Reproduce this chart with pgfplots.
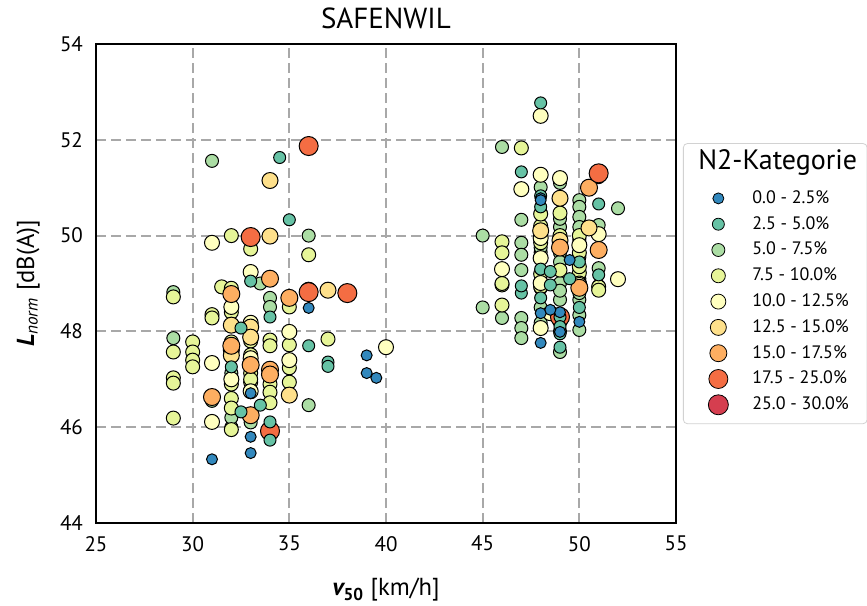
\documentclass[border=0pt]{standalone}
\usepackage{pgfplots}
\pgfplotsset{compat=1.18}
\usepackage{pgfplotstable}
\usepackage{fontspec}
\setmainfont{PT Sans}
\definecolor{c0}{HTML}{3288BD}
\definecolor{c1}{HTML}{66C2A5}
\definecolor{c2}{HTML}{ABDDA4}
\definecolor{c3}{HTML}{E6F598}
\definecolor{c4}{HTML}{FFFFBF}
\definecolor{c5}{HTML}{FEE08B}
\definecolor{c6}{HTML}{FDAE61}
\definecolor{c7}{HTML}{F46D43}
\definecolor{c8}{HTML}{D53E4F}
\definecolor{gridgray}{HTML}{A8A8A8}

\pgfplotstableread{
x y
36 48.49
39 47.50
39 47.13
39.5 47.03
31 45.33
33 45.80
33 45.46
33 46.71
48 50.78
48 48.38
48 47.76
49 47.99
49.5 49.49
50 48.20
48 50.74
49 48.40
48.5 48.45
}\catA
\pgfplotstableread{
x y
34.5 51.63
35 50.33
33 49.05
34 48.30
36 47.70
37 47.36
37 47.27
32 47.26
32.5 48.07
32.5 46.32
33.5 46.46
34 46.11
34 45.73
48 52.77
47 51.33
48 50.83
51 50.66
47 48.80
48 48.70
48.5 48.97
49 48.30
49 47.95
49 47.67
50 49.45
51 49.18
48 49.30
47 48.95
50 48.50
48.5 49.25
49 48.10
48 50.60
49.5 49.10
}\catB
\pgfplotstableread{
x y
31 51.56
36 50.00
33.5 49.00
34 48.70
34 48.51
29 48.82
29 47.86
32 47.65
32 47.13
32 46.99
32 46.00
31 46.55
36 46.46
48 51.01
49 51.10
51 51.22
50 50.74
52 50.57
49 50.18
50 50.60
50 50.39
50 50.18
50 49.91
48 50.47
48 50.18
45 50.00
47 50.33
47 49.85
47 49.60
47 49.28
49 49.64
51 50.22
51 49.32
46 48.28
45 48.50
47 48.28
47 48.07
47 47.86
48 48.18
49 49.01
49 48.66
49 47.57
50 48.66
50 48.34
50 48.03
48 49.05
48 48.90
49 48.85
50 49.10
51 48.95
46 51.85
48 49.65
48 48.50
49 49.45
49 48.00
50 48.80
50 49.55
48 49.75
49 50.35
32 46.20
33 46.10
}\catC
\pgfplotstableread{
x y
33 49.72
36 49.60
32 50.00
31.5 48.93
32 48.40
35 48.51
37 47.84
29 48.72
29 47.57
29 47.03
29 46.92
29 46.19
30 47.78
30 47.57
30 47.40
30 47.26
31 48.35
31 48.28
32 47.78
32 46.90
32 46.60
32 46.40
32 45.95
33 47.80
33 47.51
33 47.13
33 46.94
34 47.82
34 47.70
34 47.09
34 46.90
34 46.73
34 46.51
35 47.72
35 47.24
35 46.94
47 51.83
49 51.20
46 49.87
46 49.64
46 48.97
46 48.55
48 49.85
49 50.47
49 49.85
49 49.28
50 49.64
50 49.22
50 49.01
51 48.93
51 48.86
48 48.93
46 49.00
48 50.20
49 50.00
48 49.20
48 50.45
49 48.20
50 50.00
50 49.35
32 48.90
33 47.00
}\catD
\pgfplotstableread{
x y
31 49.85
33 49.24
31 47.34
31 46.11
32 48.51
33 48.18
33 47.44
35 47.99
35 47.40
40 47.67
32 47.00
33 46.75
48 52.50
48 51.27
47 50.97
49 51.20
48 49.53
48 49.01
46 49.30
52 49.09
51 50.03
50 48.97
48.5 48.38
48 48.07
48 49.95
50 49.80
}\catE
\pgfplotstableread{
x y
34 51.15
34 49.99
36 48.86
37 48.86
32 48.13
32 47.61
32 47.50
33 48.09
33 47.88
35 46.67
49 50.78
50.5 50.16
48 50.10
49 49.90
}\catF
\pgfplotstableread{
x y
32 48.78
34 49.10
35 48.70
31 46.63
33 47.30
34 47.20
34 47.10
33 46.25
32 47.70
50.5 51.00
51 49.70
50 48.91
49 49.75
}\catG
\pgfplotstableread{
x y
36 51.87
33 49.97
38 48.80
36 48.82
34 45.92
51 51.30
49 48.30
}\catH

\begin{document}
\begin{tikzpicture}
\useasboundingbox (-48pt,-41pt) rectangle (385.5pt,261.5pt);
\begin{axis}[
  scale only axis,
  width=290pt, height=239.5pt,
  xmin=25, xmax=55, ymin=44, ymax=54,
  xtick={25,30,...,55}, ytick={44,46,...,54},
  grid=major,
  major grid style={gridgray, line width=1pt, dash pattern=on 5pt off 2.5pt},
  axis line style={black, line width=0.6pt},
  major tick length=0pt,
  tick label style={font=\fontsize{10.5}{12}\selectfont},
  /pgf/number format/assume math mode=true,
  xticklabel style={yshift=-3pt},
  yticklabel style={xshift=-3pt},
  title={SAFENWIL},
  title style={font=\fontsize{14.5}{16}\selectfont, anchor=base, yshift=1.5pt},
  xlabel={{\bfseries\itshape v}\textsubscript{\bfseries 50} [km/h]},
  ylabel={{\bfseries\itshape L}\textsubscript{\itshape norm} [dB(A)]},
  xlabel style={font=\fontsize{12.3}{14}\selectfont, at={(axis description cs:0.5,-0.14)}, anchor=center},
  ylabel style={font=\fontsize{12.3}{14}\selectfont, at={(axis description cs:-0.117,0.5)}, anchor=center},
  legend image code/.code={\path[draw=none,fill=none] (-14.5pt,-6.45pt) rectangle (10pt,6.45pt); \draw[#1] plot coordinates {(0pt,0pt)};},
  legend style={at={(1.012,0.793)}, anchor=north west, draw=gray!35, rounded corners=2pt,
    font=\fontsize{9}{10}\selectfont, inner xsep=3pt, inner ysep=3pt,
    nodes={inner xsep=2pt, inner ysep=0pt}, column sep=5pt, row sep=0pt},
  legend cell align=left,
]
\addplot[only marks, mark=*, mark size=3.25pt, mark options={fill=c2, draw=black, line width=0.5pt}, forget plot] table {\catC};
\addplot[only marks, mark=*, mark size=3.5pt, mark options={fill=c3, draw=black, line width=0.5pt}, forget plot] table {\catD};
\addplot[only marks, mark=*, mark size=3.75pt, mark options={fill=c4, draw=black, line width=0.5pt}, forget plot] table {\catE};
\addplot[only marks, mark=*, mark size=4pt, mark options={fill=c5, draw=black, line width=0.5pt}, forget plot] table {\catF};
\addplot[only marks, mark=*, mark size=4.25pt, mark options={fill=c6, draw=black, line width=0.5pt}, forget plot] table {\catG};
\addplot[only marks, mark=*, mark size=4.75pt, mark options={fill=c7, draw=black, line width=0.5pt}, forget plot] table {\catH};
\addplot[only marks, mark=*, mark size=3pt, mark options={fill=c1, draw=black, line width=0.5pt}, forget plot] table {\catB};
\addplot[only marks, mark=*, mark size=2.75pt, mark options={fill=c0, draw=black, line width=0.5pt}, forget plot] table {\catA};

\addlegendimage{empty legend}
\addlegendentry[font=\fontsize{14}{16}\selectfont, text depth=8pt]{\hspace{-27pt}N2-Kategorie}
\addlegendimage{only marks, mark=*, mark size=2.75pt, mark options={fill=c0, draw=none}}
\addlegendentry{0.0 - 2.5\%}
\addlegendimage{only marks, mark=*, mark size=3pt, mark options={fill=c1, draw=none}}
\addlegendentry{2.5 - 5.0\%}
\addlegendimage{only marks, mark=*, mark size=3.25pt, mark options={fill=c2, draw=none}}
\addlegendentry{5.0 - 7.5\%}
\addlegendimage{only marks, mark=*, mark size=3.5pt, mark options={fill=c3, draw=none}}
\addlegendentry{7.5 - 10.0\%}
\addlegendimage{only marks, mark=*, mark size=3.75pt, mark options={fill=c4, draw=none}}
\addlegendentry{10.0 - 12.5\%}
\addlegendimage{only marks, mark=*, mark size=4pt, mark options={fill=c5, draw=none}}
\addlegendentry{12.5 - 15.0\%}
\addlegendimage{only marks, mark=*, mark size=4.25pt, mark options={fill=c6, draw=none}}
\addlegendentry{15.0 - 17.5\%}
\addlegendimage{only marks, mark=*, mark size=4.75pt, mark options={fill=c7, draw=none}}
\addlegendentry{17.5 - 25.0\%}
\addlegendimage{only marks, mark=*, mark size=5pt, mark options={fill=c8, draw=none}}
\addlegendentry{25.0 - 30.0\%}
\end{axis}
\end{tikzpicture}
\end{document}
